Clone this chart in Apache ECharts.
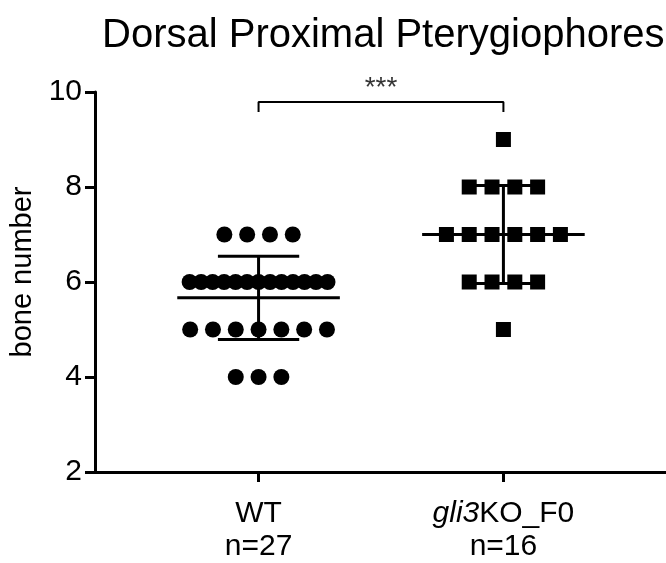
<!DOCTYPE html>
<html><head><meta charset="utf-8">
<script src="https://cdn.jsdelivr.net/npm/echarts@6/dist/echarts.min.js"></script>
<style>html,body{margin:0;padding:0;background:#fff}#c{width:666px;height:563px}</style>
</head><body><div id="c"></div>
<script>
// ---- data ----
const categories = ['WT', 'gli3KO_F0'];
const sampleSizes = ['n=27', 'n=16'];
const wtValues = [7,7,7,7, 6,6,6,6,6,6,6,6,6,6,6,6,6, 5,5,5,5,5,5,5, 4,4,4];
const koValues = [9, 8,8,8,8, 7,7,7,7,7,7, 6,6,6,6, 5];
const yTicks = [2, 4, 6, 8, 10];
const significance = '***';
const titleText = 'Dorsal Proximal Pterygiophores';
const yName = 'bone number';

// ---- helpers ----
const STEP = 0.0931, SPAN = 0.563;
function swarm(values, idx) {
  const groups = {};
  values.forEach(v => { (groups[v] = groups[v] || []).push(v); });
  const pts = [];
  Object.keys(groups).forEach(k => {
    const n = groups[k].length;
    const step = n > 1 ? Math.min(STEP, SPAN / (n - 1)) : 0;
    groups[k].forEach((v, i) => pts.push([idx + (i - (n - 1) / 2) * step, v]));
  });
  return pts;
}
function stats(values) {
  const n = values.length;
  const m = values.reduce((a, b) => a + b, 0) / n;
  const sd = Math.sqrt(values.reduce((a, b) => a + (b - m) * (b - m), 0) / (n - 1));
  return [m, sd];
}
const wtStats = stats(wtValues), koStats = stats(koValues);
const summary = [[0, wtStats[0], wtStats[1]], [1, koStats[0], koStats[1]]];

const FONT = '"Liberation Sans", Arial, Helvetica, sans-serif';
const chart = echarts.init(document.getElementById('c'));
chart.setOption({
  animation: false,
  title: {
    text: titleText, left: 97, top: 11,
    textStyle: { fontFamily: FONT, fontSize: 40, fontWeight: 'normal', color: '#000' }
  },
  grid: { left: 90, right: 0, top: 92, bottom: 88 },
  xAxis: {
    type: 'value', min: -0.668, max: 1.664,
    splitLine: { show: false },
    axisLine: { show: true, onZero: false, lineStyle: { color: '#000', width: 3 } },
    axisTick: { show: true, customValues: [0, 1], length: 10, lineStyle: { color: '#000', width: 3 } },
    axisLabel: {
      customValues: [0, 1], margin: 25, lineHeight: 33,
      formatter: v => v === 0
        ? '{n|' + categories[0] + '}\n{n|' + sampleSizes[0] + '}'
        : '{i|gli3}{n|' + categories[1].slice(4) + '}\n{n|' + sampleSizes[1] + '}',
      rich: {
        n: { fontFamily: FONT, fontSize: 30, color: '#000', lineHeight: 33 },
        i: { fontFamily: FONT, fontSize: 30, fontStyle: 'italic', color: '#000', lineHeight: 33 }
      }
    }
  },
  yAxis: {
    type: 'value', min: yTicks[0], max: yTicks[yTicks.length - 1], interval: 2,
    name: yName, nameLocation: 'middle', nameGap: 58, nameRotate: 90,
    nameTextStyle: { fontFamily: FONT, fontSize: 29, color: '#000', padding: [0, 0, 0, 20] },
    splitLine: { show: false },
    axisLine: { show: true, onZero: false, lineStyle: { color: '#000', width: 3 } },
    axisTick: { show: true, length: 10, lineStyle: { color: '#000', width: 3 } },
    axisLabel: { fontFamily: FONT, fontSize: 30, color: '#000', margin: 13 }
  },
  series: [
    { type: 'scatter', data: swarm(wtValues, 0), symbol: 'circle', symbolSize: 16,
      itemStyle: { color: '#000', opacity: 1 }, z: 2 },
    { type: 'scatter', data: swarm(koValues, 1), symbol: 'rect', symbolSize: 15,
      itemStyle: { color: '#000', opacity: 1 }, z: 2 },
    { type: 'custom', data: summary, z: 3,
      renderItem: (params, api) => {
        const x = api.value(0), m = api.value(1), s = api.value(2);
        const st = { stroke: '#000', lineWidth: 3 };
        const seg = (a, b) => {
          const p1 = api.coord(a), p2 = api.coord(b);
          return { type: 'line', shape: { x1: p1[0], y1: p1[1], x2: p2[0], y2: p2[1] }, style: st };
        };
        return { type: 'group', children: [
          seg([x - 0.332, m], [x + 0.332, m]),
          seg([x, m - s], [x, m + s]),
          seg([x - 0.166, m + s], [x + 0.166, m + s]),
          seg([x - 0.166, m - s], [x + 0.166, m - s])
        ] };
      }
    },
    { type: 'line', data: [[0, 9.58], [0, 9.79], [1, 9.79], [1, 9.58]], symbol: 'none',
      lineStyle: { color: '#000', width: 2 }, z: 1 },
    { type: 'scatter', data: [[0.5, 9.79]], symbolSize: 0,
      label: { show: true, position: 'top', distance: 0, formatter: significance,
        fontFamily: FONT, fontSize: 28, color: '#000' } }
  ]
});
</script></body></html>
